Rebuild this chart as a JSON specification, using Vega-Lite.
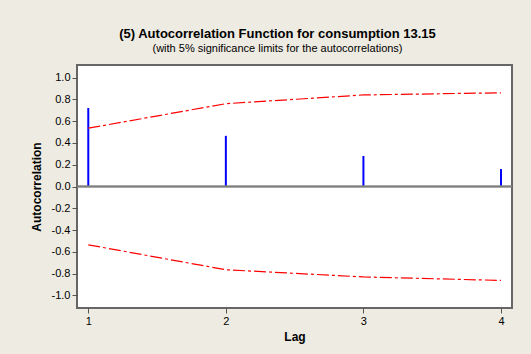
{
  "$schema": "https://vega.github.io/schema/vega-lite/v6.json",
  "width": 435,
  "height": 243,
  "autosize": {"type": "none"},
  "padding": {"left": 77, "top": 65, "right": 19, "bottom": 46},
  "background": "#EEEBE2",
  "title": {
    "text": "(5) Autocorrelation Function for consumption 13.15",
    "subtitle": "(with 5% significance limits for the autocorrelations)",
    "font": "Liberation Sans",
    "fontSize": 13,
    "fontWeight": "bold",
    "color": "#000000",
    "subtitleFont": "Liberation Sans",
    "subtitleFontSize": 11,
    "subtitleColor": "#000000",
    "subtitlePadding": 2,
    "anchor": "middle",
    "dx": -17,
    "offset": 11
  },
  "data": {
    "values": [
      {"lag": 1, "acf": 0.72, "upper": 0.535, "lower": -0.535},
      {"lag": 2, "acf": 0.465, "upper": 0.76, "lower": -0.764},
      {"lag": 3, "acf": 0.28, "upper": 0.84, "lower": -0.83},
      {"lag": 4, "acf": 0.16, "upper": 0.86, "lower": -0.862}
    ]
  },
  "encoding": {
    "x": {
      "field": "lag",
      "type": "quantitative",
      "scale": {"domain": [0.918, 4.08], "nice": false, "zero": false},
      "axis": {
        "title": "Lag",
        "values": [1, 2, 3, 4],
        "tickCount": 10,
        "format": "d",
        "titlePadding": 5
      }
    }
  },
  "layer": [
    {
      "mark": {"type": "rule", "color": "#0000FF", "strokeWidth": 2},
      "encoding": {
        "y": {
          "field": "acf",
          "type": "quantitative",
          "scale": {"domain": [-1.115, 1.115], "nice": false, "zero": false},
          "axis": {
            "title": "Autocorrelation",
            "values": [-1, -0.8, -0.6, -0.4, -0.2, 0, 0.2, 0.4, 0.6, 0.8, 1],
            "tickCount": 20,
            "format": ".1f",
            "labelExpr": "replace(datum.label, '\u2212', '-')",
            "titlePadding": 8
          }
        },
        "y2": {"datum": 0}
      }
    },
    {
      "mark": {"type": "rule", "color": "#808080", "strokeWidth": 1.5},
      "encoding": {"x": null, "y": {"datum": 0, "type": "quantitative"}}
    },
    {
      "mark": {"type": "line", "color": "#FF0000", "strokeWidth": 1.2, "strokeDash": [12, 3, 3, 3]},
      "encoding": {"y": {"field": "upper", "type": "quantitative"}}
    },
    {
      "mark": {"type": "line", "color": "#FF0000", "strokeWidth": 1.2, "strokeDash": [12, 3, 3, 3]},
      "encoding": {"y": {"field": "lower", "type": "quantitative"}}
    }
  ],
  "config": {
    "view": {"stroke": "#666666", "strokeWidth": 2, "fill": "#FFFFFF"},
    "axis": {
      "grid": false,
      "domain": false,
      "tickColor": "#555555",
      "tickSize": 5,
      "labelFont": "Liberation Sans",
      "labelFontSize": 11,
      "labelColor": "#000000",
      "labelPadding": 2,
      "labelOverlap": false,
      "titleFont": "Liberation Sans",
      "titleFontSize": 12,
      "titleFontWeight": "bold",
      "titleColor": "#000000"
    }
  }
}
